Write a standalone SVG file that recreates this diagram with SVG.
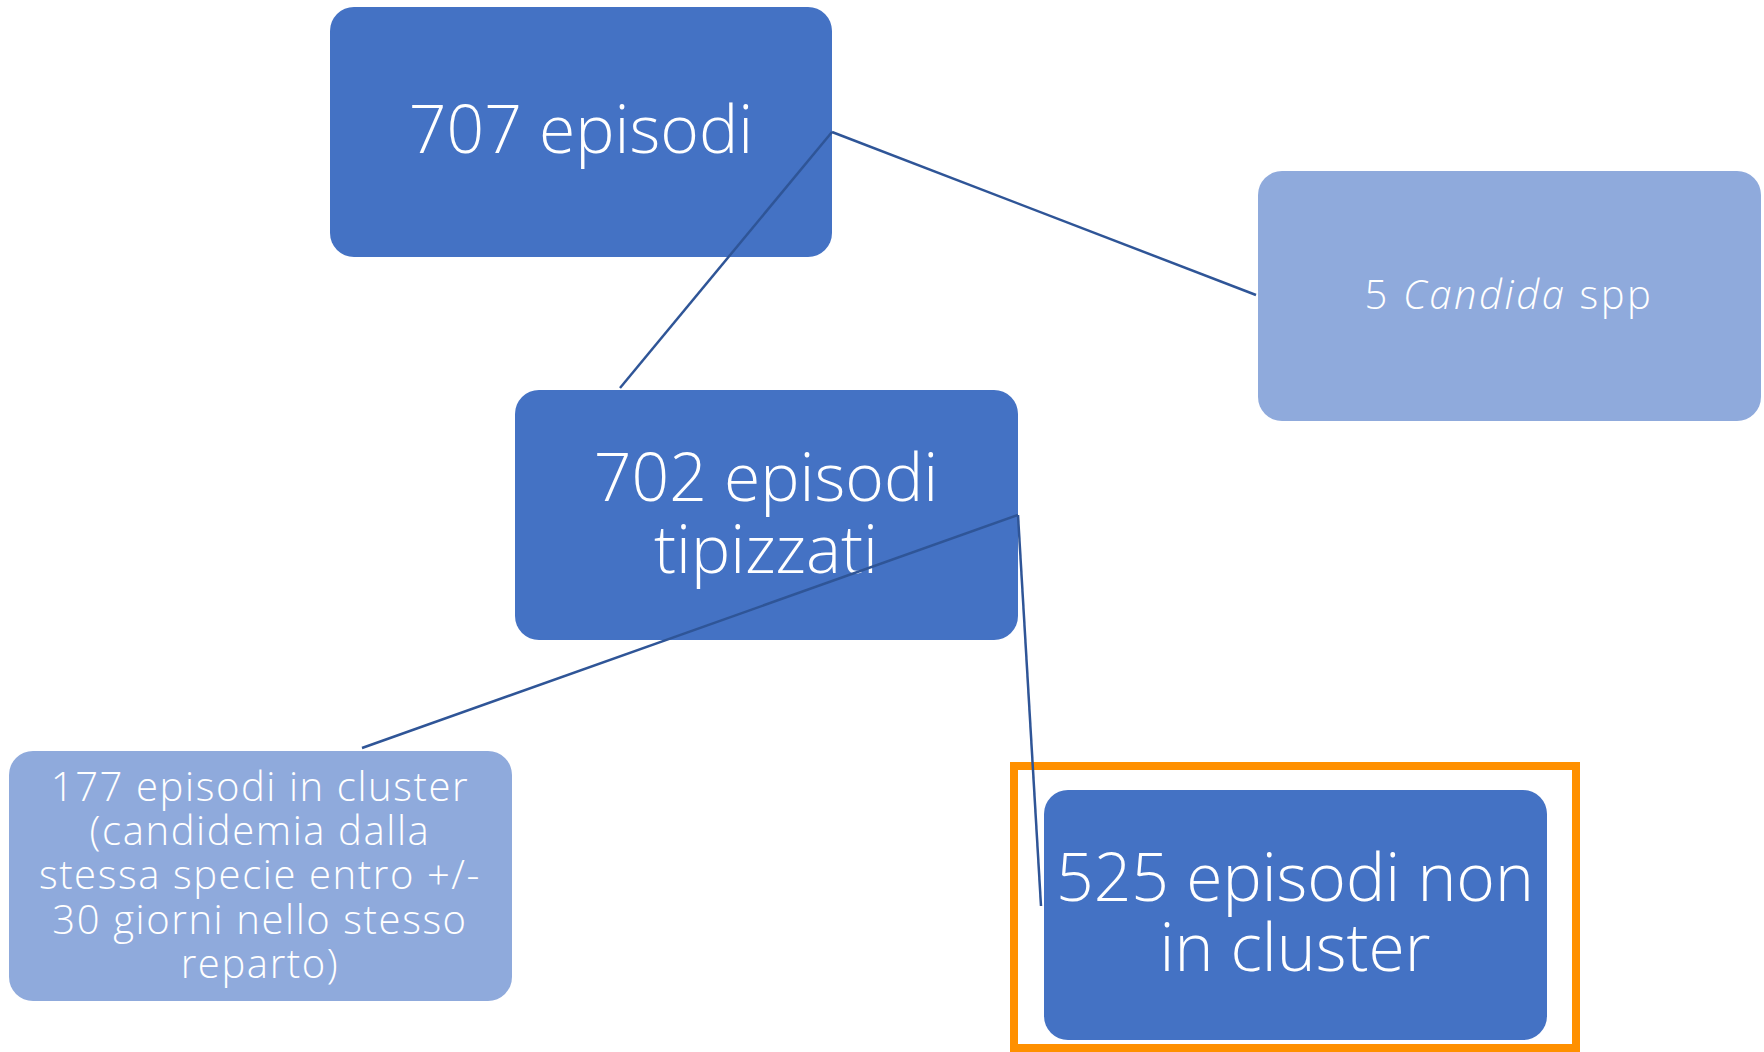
<svg xmlns="http://www.w3.org/2000/svg" width="1764" height="1052" viewBox="0 0 1764 1052">
<style>
.dark{fill:#4472C4}
.light{fill:#8FAADC}
.t{font-family:"Open Sans","Noto Sans","DejaVu Sans",sans-serif;font-weight:300;fill:#FFFFFF;text-anchor:middle}
.big{font-size:66px}
.small{font-size:40px;letter-spacing:1.6px}
.conn{stroke:#2F5597;stroke-width:2.5;fill:none}
</style>
<rect width="1764" height="1052" fill="#FFFFFF"/>
<g id="node-707">
<rect class="dark" x="330" y="7" width="502" height="250" rx="24"/>
<text class="t big" x="581" y="153">707 episodi</text>
</g>
<g id="node-5candida">
<rect class="light" x="1258" y="171" width="503" height="250" rx="24"/>
<text class="t small" x="1509" y="309" style="letter-spacing:2.6px">5 <tspan font-style="italic">Candida</tspan> spp</text>
</g>
<g id="node-702">
<rect class="dark" x="515" y="390" width="503" height="250" rx="24"/>
<text class="t big" x="766" y="501">702 episodi</text>
<text class="t big" x="766" y="573">tipizzati</text>
</g>
<g id="node-177">
<rect class="light" x="9" y="751" width="503" height="250" rx="24"/>
<text class="t small" x="260" y="801">177 episodi in cluster</text>
<text class="t small" x="260" y="845">(candidemia dalla</text>
<text class="t small" x="260" y="889">stessa specie entro +/-</text>
<text class="t small" x="260" y="934">30 giorni nello stesso</text>
<text class="t small" x="260" y="978">reparto)</text>
</g>
<g id="node-525">
<rect x="1014" y="766" width="562" height="282" fill="none" stroke="#FF9000" stroke-width="8"/>
<rect class="dark" x="1044" y="790" width="503" height="250" rx="24"/>
<text class="t big" x="1295" y="901">525 episodi non</text>
<text class="t big" x="1295" y="971">in cluster</text>
</g>
<g id="connectors">
<line class="conn" x1="832" y1="132" x2="1256" y2="295"/>
<line class="conn" x1="832" y1="132" x2="620" y2="388"/>
<line class="conn" x1="1018" y1="515" x2="362" y2="748"/>
<line class="conn" x1="1018" y1="515" x2="1041" y2="906"/>
</g>
</svg>
